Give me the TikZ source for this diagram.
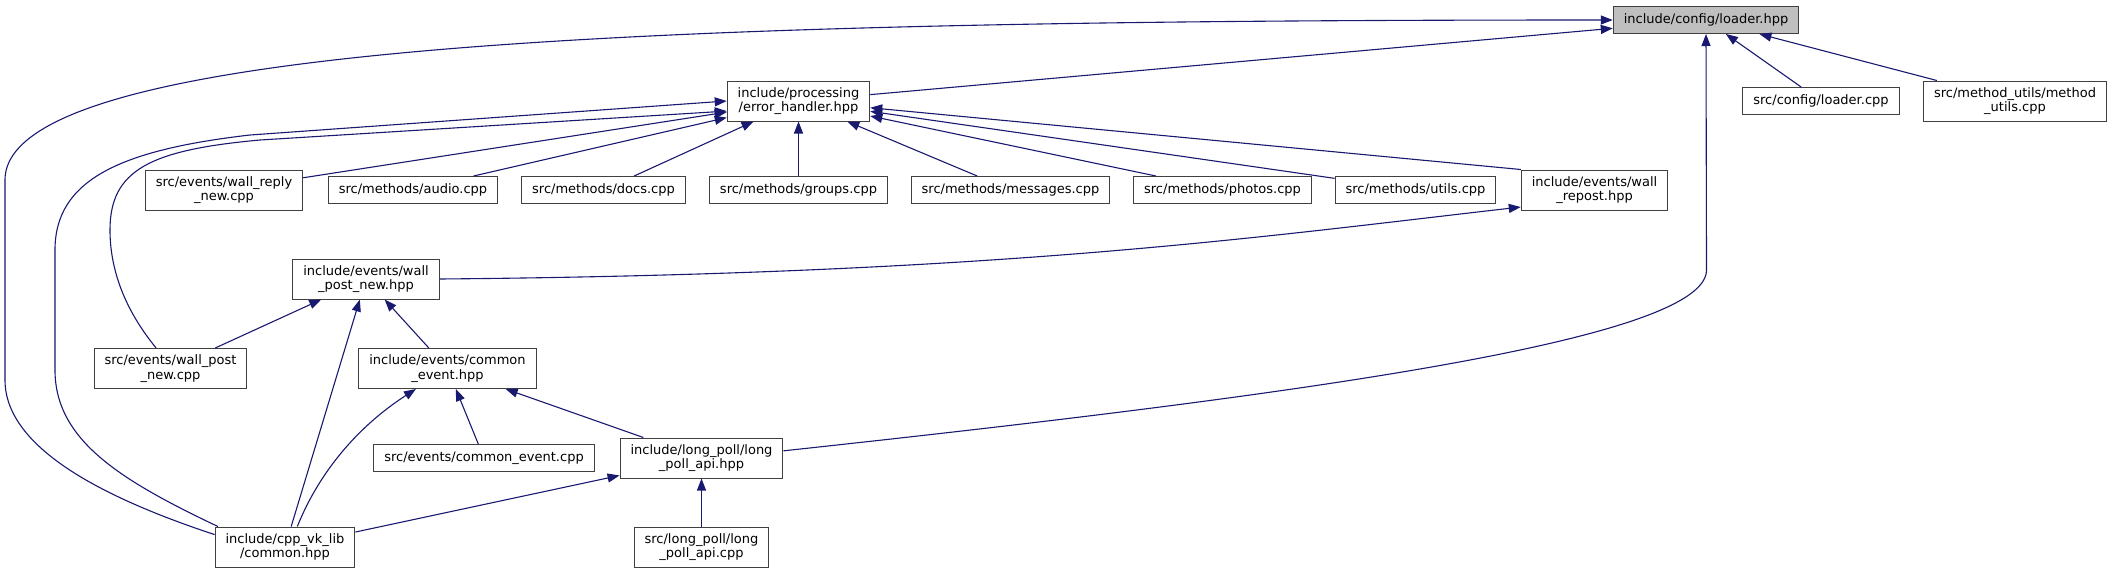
\documentclass[tikz,border=0pt]{standalone}
\usepackage{fontspec}
\setmainfont{DejaVu Sans}
\usetikzlibrary{arrows.meta}
\definecolor{edgeblue}{RGB}{25,25,112}

\begin{document}
\begin{tikzpicture}[x=1pt, y=-1pt,
    srcfile/.style={draw=black!75, line width=1pt, fill=white, align=center,
                    minimum height=27pt, inner xsep=10.5pt, inner ysep=2pt,
                    font=\fontsize{13pt}{14.5pt}\selectfont},
    srcfile2/.style={srcfile, minimum height=40pt},
    rootfile/.style={srcfile, fill=black!25},
    dep/.style={-{Triangle[length=12pt, width=9pt]}, draw=edgeblue, line width=1.1pt}]
    \useasboundingbox (0,0) rectangle (2112,573);

    \node[rootfile] (loader) at (1706,20) {include/config/loader.hpp};

    \node[srcfile2] (errh)   at (798.5,101) {include/processing\\/error\_handler.hpp};
    \node[srcfile]  (cfgcpp) at (1821,101)  {src/config/loader.cpp};
    \node[srcfile2] (mutils) at (2015,101)  {src/method\_utils/method\\\_utils.cpp};

    \node[srcfile2] (wreply)   at (224,190)    {src/events/wall\_reply\\\_new.cpp};
    \node[srcfile]  (audio)    at (413,190)    {src/methods/audio.cpp};
    \node[srcfile]  (docs)     at (603.5,190)  {src/methods/docs.cpp};
    \node[srcfile]  (groups)   at (798.5,190)  {src/methods/groups.cpp};
    \node[srcfile]  (messages) at (1010.5,190) {src/methods/messages.cpp};
    \node[srcfile]  (photos)   at (1222.5,190) {src/methods/photos.cpp};
    \node[srcfile]  (utils)    at (1415.5,190) {src/methods/utils.cpp};
    \node[srcfile2] (wrepost)  at (1594.5,190) {include/events/wall\\\_repost.hpp};

    \node[srcfile2] (wpnhpp) at (366,279)     {include/events/wall\\\_post\_new.hpp};
    \node[srcfile2] (wpncpp) at (170.5,368.5) {src/events/wall\_post\\\_new.cpp};
    \node[srcfile2] (cehpp)  at (447.5,368.5) {include/events/common\\\_event.hpp};
    \node[srcfile]  (cecpp)  at (484,458)     {src/events/common\_event.cpp};
    \node[srcfile2] (lphpp)  at (701.5,458)   {include/long\_poll/long\\\_poll\_api.hpp};
    \node[srcfile2] (common) at (285,547)     {include/cpp\_vk\_lib\\/common.hpp};
    \node[srcfile2] (lpcpp)  at (701.5,547)   {src/long\_poll/long\\\_poll\_api.cpp};

    \draw[dep] (errh) -- (loader);
    \draw[dep] (cfgcpp) -- (loader);
    \draw[dep] (mutils) -- (loader);
    \draw[dep] (common.170) .. controls (110,500) and (5,450) .. (5,380) -- (5,180)
               .. controls (5,40) and (700,20) .. (loader.west);
    \draw[dep] (lphpp.5) .. controls (1300,395) and (1706.5,340) .. (1706.5,270) -- (loader.south);

    \draw[dep] (wreply) -- (errh);
    \draw[dep] (audio) -- (errh);
    \draw[dep] (docs) -- (errh);
    \draw[dep] (groups) -- (errh);
    \draw[dep] (messages) -- (errh);
    \draw[dep] (photos) -- (errh);
    \draw[dep] (utils) -- (errh);
    \draw[dep] (wrepost.north west) -- (errh);
    \draw[dep] (common.163) .. controls (120,480) and (55,440) .. (55,370) -- (55,250)
               .. controls (55,180) and (120,150) .. (250,135) -- (errh.west);
    \draw[dep] (wpncpp.125) .. controls (125,310) and (110,270) .. (110,230)
               .. controls (110,170) and (150,150) .. (260,140) -- (errh.188);

    \draw[dep] (wpnhpp.east) .. controls (1000,274) and (1250,238) .. (wrepost.193);

    \draw[dep] (wpncpp) -- (wpnhpp);
    \draw[dep] (common) -- (wpnhpp);
    \draw[dep] (cehpp) -- (wpnhpp);

    \draw[dep] (common.59) .. controls (320,470) and (360,425) .. (cehpp.213);
    \draw[dep] (cecpp) -- (cehpp);
    \draw[dep] (lphpp) -- (cehpp);

    \draw[dep] (common) -- (lphpp);
    \draw[dep] (lpcpp) -- (lphpp);
\end{tikzpicture}
\end{document}
